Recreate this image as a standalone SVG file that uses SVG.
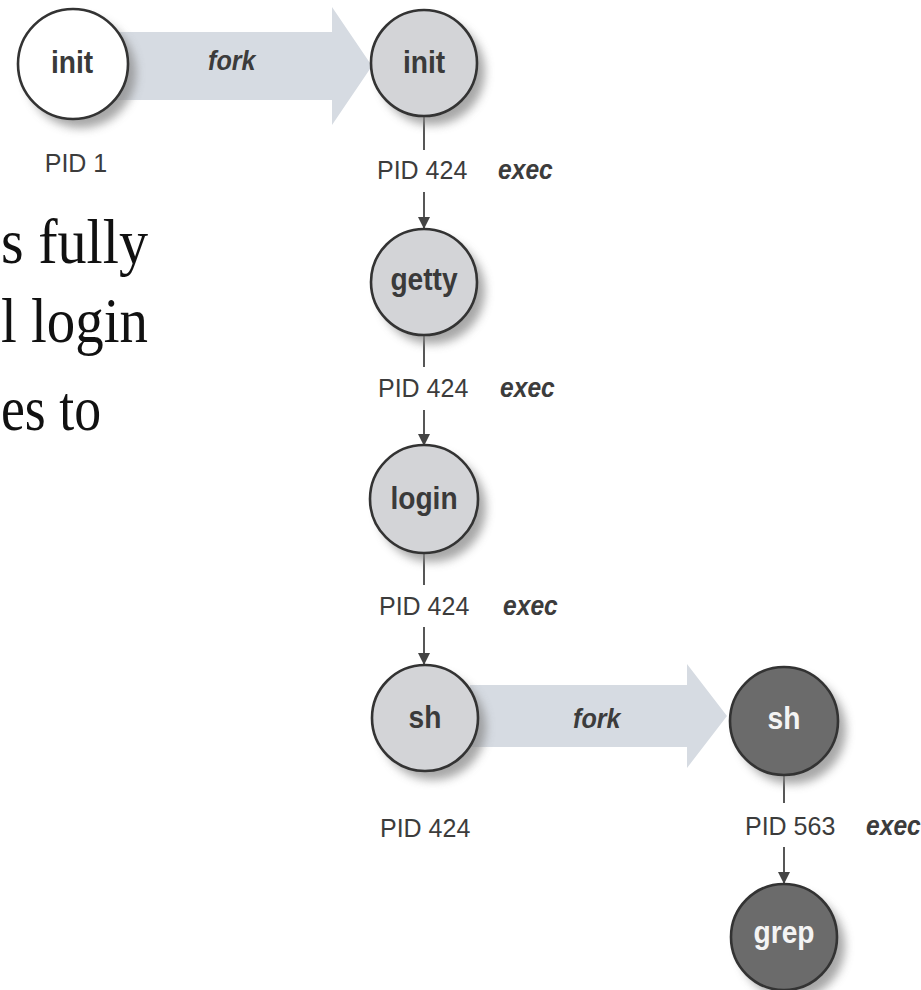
<svg xmlns="http://www.w3.org/2000/svg" width="921" height="990" viewBox="0 0 921 990">
  <style>
    .node { stroke: #333333; stroke-width: 2.6; }
    .n-white { fill: #ffffff; }
    .n-light { fill: #d3d4d7; }
    .n-dark { fill: #6b6b6b; }
    .shadow { fill: #8a8a8a; opacity: 0.75; }
    .name { font-family: "Liberation Sans", Arial, sans-serif; font-weight: bold; font-size: 32px; fill: #3a3a3a; text-anchor: middle; }
    .name-inv { fill: #f4f4f4; }
    .pid { font-family: "Liberation Sans", Arial, sans-serif; font-size: 25px; fill: #3c3c3c; }
    .verb { font-family: "Liberation Sans", Arial, sans-serif; font-weight: bold; font-style: italic; font-size: 28px; fill: #3c3c3c; }
    .link { stroke: #444444; stroke-width: 1.8; fill: none; }
    .band { fill: #d6dbe2; }
    .page { font-family: "Liberation Serif", "Times New Roman", serif; font-size: 64px; fill: #111111; }
  </style>
  <defs>
    <filter id="soft" x="-40%" y="-40%" width="180%" height="180%">
      <feGaussianBlur stdDeviation="5"/>
    </filter>
    <marker id="tip" markerWidth="12" markerHeight="12" refX="11" refY="6" orient="auto" markerUnits="userSpaceOnUse">
      <path d="M0,0 L12,6 L0,12 Z" fill="#444444"/>
    </marker>
  </defs>

  <rect width="921" height="990" fill="#ffffff"/>

  <!-- running text at the left edge of the page -->
  <g id="page-text">
    <text class="page" x="1" y="263" textLength="147" lengthAdjust="spacingAndGlyphs">s fully</text>
    <text class="page" x="1" y="342" textLength="147" lengthAdjust="spacingAndGlyphs">l login</text>
    <text class="page" x="1" y="430" textLength="100" lengthAdjust="spacingAndGlyphs">es to</text>
  </g>

  <!-- fork bands and exec connectors -->
  <g id="connectors">
    <g id="fork-1">
      <path class="band" d="M110,32 H332 V7 L372,66 L332,125 V100 H110 Z"/>
      <text class="verb" transform="translate(208,70) scale(0.9,1)">fork</text>
    </g>
    <g id="fork-2">
      <path class="band" d="M470,685 H687 V664 L727,716 L687,768 V747 H470 Z"/>
      <text class="verb" transform="translate(573,728) scale(0.9,1)">fork</text>
    </g>

    <g id="exec-1">
      <line class="link" x1="424" y1="116" x2="424" y2="150"/>
      <line class="link" x1="424" y1="192" x2="424" y2="228" marker-end="url(#tip)"/>
      <text class="pid" x="377" y="179">PID 424</text>
      <text class="verb" transform="translate(498,179) scale(0.88,1)">exec</text>
    </g>
    <g id="exec-2">
      <line class="link" x1="424" y1="335" x2="424" y2="367"/>
      <line class="link" x1="424" y1="410" x2="424" y2="445" marker-end="url(#tip)"/>
      <text class="pid" x="378" y="397">PID 424</text>
      <text class="verb" transform="translate(500,397) scale(0.88,1)">exec</text>
    </g>
    <g id="exec-3">
      <line class="link" x1="424" y1="553" x2="424" y2="585"/>
      <line class="link" x1="424" y1="627" x2="424" y2="664" marker-end="url(#tip)"/>
      <text class="pid" x="379" y="615">PID 424</text>
      <text class="verb" transform="translate(503,615) scale(0.88,1)">exec</text>
    </g>
    <g id="exec-4">
      <line class="link" x1="784" y1="775" x2="784" y2="803"/>
      <line class="link" x1="784" y1="847" x2="784" y2="883" marker-end="url(#tip)"/>
      <text class="pid" x="745" y="835">PID 563</text>
      <text class="verb" transform="translate(866,835) scale(0.88,1)">exec</text>
    </g>
  </g>

  <!-- process nodes -->
  <g id="init-1">
    <circle class="shadow" cx="81" cy="73" r="55" filter="url(#soft)"/>
    <circle class="node n-white" cx="73" cy="64" r="55"/>
    <text class="name" transform="translate(72,73) scale(0.88,1)">init</text>
    <text class="pid" x="76" y="172" text-anchor="middle">PID 1</text>
  </g>

  <g id="init-2">
    <circle class="shadow" cx="432" cy="72" r="53" filter="url(#soft)"/>
    <circle class="node n-light" cx="424" cy="63" r="53"/>
    <text class="name" transform="translate(424,73) scale(0.88,1)">init</text>
  </g>

  <g id="getty">
    <circle class="shadow" cx="432" cy="291" r="53" filter="url(#soft)"/>
    <circle class="node n-light" cx="424" cy="282" r="53"/>
    <text class="name" transform="translate(424,290) scale(0.88,1)">getty</text>
  </g>

  <g id="login">
    <circle class="shadow" cx="432" cy="508" r="54" filter="url(#soft)"/>
    <circle class="node n-light" cx="424" cy="499" r="54"/>
    <text class="name" transform="translate(424,509) scale(0.88,1)">login</text>
  </g>

  <g id="sh-1">
    <circle class="shadow" cx="433" cy="727" r="53" filter="url(#soft)"/>
    <circle class="node n-light" cx="425" cy="718" r="53"/>
    <text class="name" transform="translate(425,728) scale(0.88,1)">sh</text>
    <text class="pid" x="380" y="837">PID 424</text>
  </g>

  <g id="sh-2">
    <circle class="shadow" cx="792" cy="730" r="54" filter="url(#soft)"/>
    <circle class="node n-dark" cx="784" cy="721" r="54"/>
    <text class="name name-inv" transform="translate(784,729) scale(0.88,1)">sh</text>
  </g>

  <g id="grep">
    <circle class="shadow" cx="792" cy="946" r="53" filter="url(#soft)"/>
    <circle class="node n-dark" cx="784" cy="937" r="53"/>
    <text class="name name-inv" transform="translate(784,943) scale(0.88,1)">grep</text>
  </g>
</svg>
